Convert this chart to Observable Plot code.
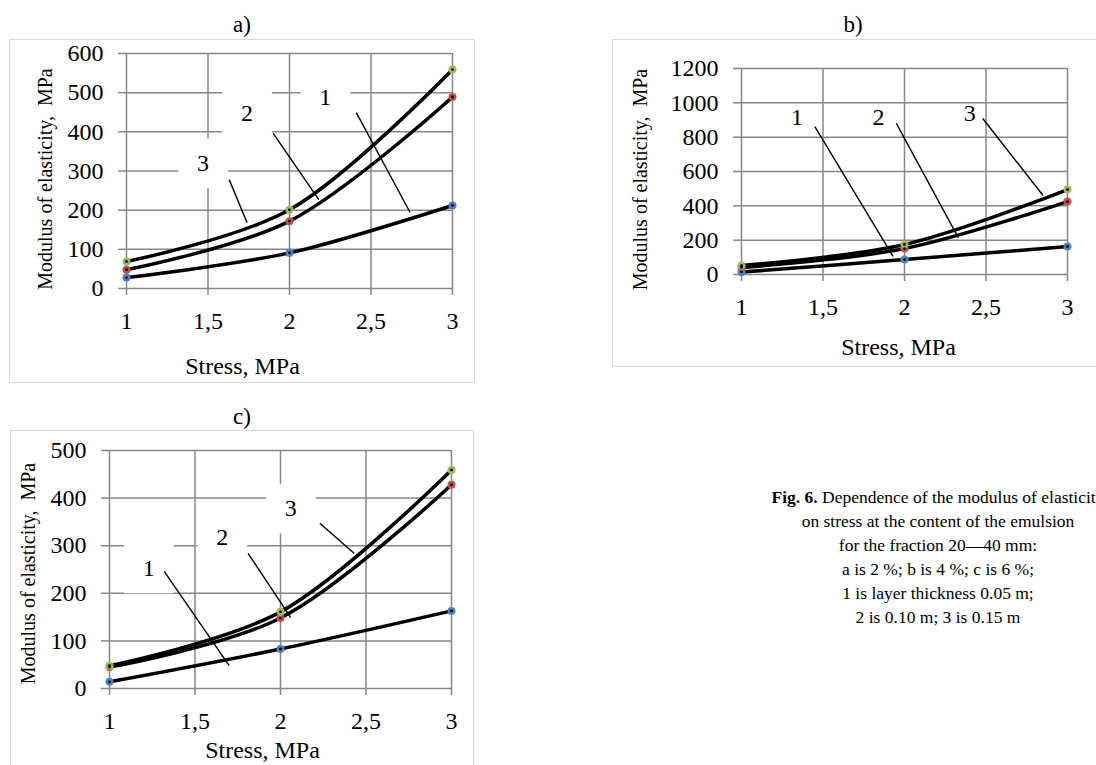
<!DOCTYPE html>
<html><head><meta charset="utf-8">
<script src="https://cdn.jsdelivr.net/npm/d3@7"></script>
<script src="https://cdn.jsdelivr.net/npm/@observablehq/plot@0.6"></script>
<style>
html,body{margin:0;padding:0;}
body{width:1096px;height:765px;overflow:hidden;background:#fff;position:relative;font-family:"Liberation Serif","Times New Roman",serif;color:#000;}
.box{position:absolute;border:1.5px solid #d9d9d9;box-sizing:border-box;}
.ttl{position:absolute;font-size:23px;transform:translate(-50%,-50%);white-space:nowrap;}
.svgwrap{position:absolute;}
.svgwrap svg{max-width:none !important;}
.cap{position:absolute;left:738px;top:485px;width:400px;text-align:center;font-size:17.5px;line-height:24px;white-space:nowrap;}
</style></head><body>
<div class="box" style="left:9px;top:39px;width:466px;height:344px;"></div>
<div class="box" style="left:612px;top:39px;width:600px;height:328px;"></div>
<div class="box" style="left:10px;top:430px;width:464px;height:400px;"></div>
<div class="ttl" style="left:242px;top:25px;">a)</div>
<div class="ttl" style="left:853px;top:25px;">b)</div>
<div class="ttl" style="left:242px;top:417px;">c)</div>
<div id="pa" class="svgwrap" style="left:9px;top:39px;width:466px;height:344px;"></div>
<div id="pb" class="svgwrap" style="left:612px;top:39px;width:500px;height:328px;"></div>
<div id="pc" class="svgwrap" style="left:10px;top:430px;width:464px;height:370px;"></div>
<div class="cap"><b>Fig. 6.</b> Dependence of the modulus of elasticity<br>on stress at the content of the emulsion<br>for the fraction 20—40 mm:<br>a is 2 %; b is 4 %; c is 6 %;<br>1 is layer thickness 0.05 m;<br>2 is 0.10 m; 3 is 0.15 m</div>
<script>
// ---- data ----
const stress = [1, 2, 3];
const seriesNames = ["1", "2", "3"];
const seriesColors = ["#4F81BD", "#C0504D", "#9BBB59"];
const xTicks = [1, 1.5, 2, 2.5, 3];

// a) emulsion 2 %
const a1 = [28, 91, 212];
const a2 = [48, 172, 489];
const a3 = [69, 201, 559];
const aTicks = [0, 100, 200, 300, 400, 500, 600];
const aLabels = [{t: "3", x: 1.47, y: 319}, {t: "2", x: 1.74, y: 447}, {t: "1", x: 2.22, y: 488}];
const aLeaders = [
  {x1: 1.63, y1: 278, x2: 1.74, y2: 168},
  {x1: 1.90, y1: 396, x2: 2.18, y2: 227},
  {x1: 2.41, y1: 449, x2: 2.74, y2: 194}
];

// b) emulsion 4 %
const b1 = [14, 87, 163];
const b2 = [41, 151, 425];
const b3 = [52, 175, 495];
const bTicks = [0, 200, 400, 600, 800, 1000, 1200];
const bLabels = [{t: "1", x: 1.34, y: 915}, {t: "2", x: 1.84, y: 915}, {t: "3", x: 2.40, y: 938}];
const bLeaders = [
  {x1: 1.45, y1: 862, x2: 1.93, y2: 105},
  {x1: 1.95, y1: 880, x2: 2.33, y2: 215},
  {x1: 2.48, y1: 909, x2: 2.85, y2: 460}
];

// c) emulsion 6 %
const c1 = [14, 83, 163];
const c2 = [45, 148, 428];
const c3 = [48, 161, 459];
const cTicks = [0, 100, 200, 300, 400, 500];
const cLabels = [{t: "1", x: 1.23, y: 252}, {t: "2", x: 1.66, y: 317}, {t: "3", x: 2.06, y: 378}];
const cLeaders = [
  {x1: 1.32, y1: 246, x2: 1.70, y2: 48},
  {x1: 1.81, y1: 284, x2: 2.06, y2: 149},
  {x1: 2.23, y1: 347, x2: 2.43, y2: 284}
];

const xTitle = "Stress, MPa";
const yTitle = "Modulus of elasticity,  MPa";

// ---- drawing ----
const FONT = "Liberation Serif";
const GRID = "#878787";

function panel(cfg) {
  const series = [cfg.s1, cfg.s2, cfg.s3];
  const rows = [];
  series.forEach((vals, i) => vals.forEach((v, j) => rows.push({s: seriesNames[i], x: stress[j], y: v})));
  const marks = [
    Plot.gridX(xTicks, {stroke: GRID, strokeWidth: 1.5, strokeOpacity: 1}),
    Plot.gridY(cfg.ticks, {stroke: GRID, strokeWidth: 1.5, strokeOpacity: 1})
  ];
  if (cfg.labelBg) {
    marks.push(Plot.dot(cfg.labels, {x: "x", y: "y", symbol: "square", r: 28, fill: "white", stroke: "none"}));
  }
  marks.push(
    Plot.axisX(xTicks, {tickSize: 7, tickPadding: 16, stroke: GRID, strokeWidth: 1.5, fill: "black",
      fontSize: 24, fontFamily: FONT, label: null, tickFormat: d => String(d).replace(".", ",")}),
    Plot.axisY(cfg.ticks, {tickSize: 8, tickPadding: 15, stroke: GRID, strokeWidth: 1.5, fill: "black",
      fontSize: 24, fontFamily: FONT, label: null, tickFormat: d => String(d)}),
    Plot.line(rows, {x: "x", y: "y", z: "s", curve: "catmull-rom", stroke: "black", strokeWidth: 3.5}),
    ...series.map((vals, i) => Plot.dot(rows.filter(r => r.s === seriesNames[i]), {x: "x", y: "y", r: 4, fill: seriesColors[i], stroke: "none"})),
    Plot.dot(rows, {x: "x", y: "y", r: 1.4, fill: "black", stroke: "none"}),
    Plot.link(cfg.leaders, {x1: "x1", y1: "y1", x2: "x2", y2: "y2", stroke: "black", strokeWidth: 1.4}),
    Plot.text(cfg.labels, {x: "x", y: "y", text: "t", fontSize: 24, fontFamily: FONT, fill: "black"}),
    Plot.text([xTitle], {frameAnchor: "bottom", textAnchor: "middle", lineAnchor: "middle", text: d => d, dx: cfg.xtDx, dy: cfg.xtDy, fontSize: 24, fontFamily: FONT, fill: "black"}),
    Plot.text([yTitle], {frameAnchor: "left", textAnchor: "middle", lineAnchor: "middle", text: d => d, rotate: -90, dx: cfg.ytDx, dy: cfg.ytDy, fontSize: 20, fontFamily: FONT, fill: "black"})
  );
  return Plot.plot({
    width: cfg.width, height: cfg.height,
    marginLeft: cfg.ml, marginRight: cfg.mr, marginTop: cfg.mt, marginBottom: cfg.mb,
    x: {domain: [1, 3]},
    y: {domain: [0, cfg.ticks[cfg.ticks.length - 1]]},
    style: {fontFamily: FONT, fontSize: "24px", background: "transparent", overflow: "visible", maxWidth: "none"},
    marks
  });
}

document.getElementById("pa").append(panel({
  s1: a1, s2: a2, s3: a3, ticks: aTicks, labels: aLabels, leaders: aLeaders, labelBg: true,
  width: 466, height: 344, ml: 117, mr: 23, mt: 14, mb: 95,
  xtDx: -47, xtDy: 78, ytDx: -81, ytDy: 8
}));
document.getElementById("pb").append(panel({
  s1: b1, s2: b2, s3: b3, ticks: bTicks, labels: bLabels, leaders: bLeaders, labelBg: false,
  width: 500, height: 328, ml: 129, mr: 45, mt: 29, mb: 93,
  xtDx: -6, xtDy: 73, ytDx: -101, ytDy: 8
}));
document.getElementById("pc").append(panel({
  s1: c1, s2: c2, s3: c3, ticks: cTicks, labels: cLabels, leaders: cLeaders, labelBg: true,
  width: 464, height: 370, ml: 99, mr: 23, mt: 20, mb: 112,
  xtDx: -18, xtDy: 62, ytDx: -81, ytDy: 4
}));
</script>
</body></html>
